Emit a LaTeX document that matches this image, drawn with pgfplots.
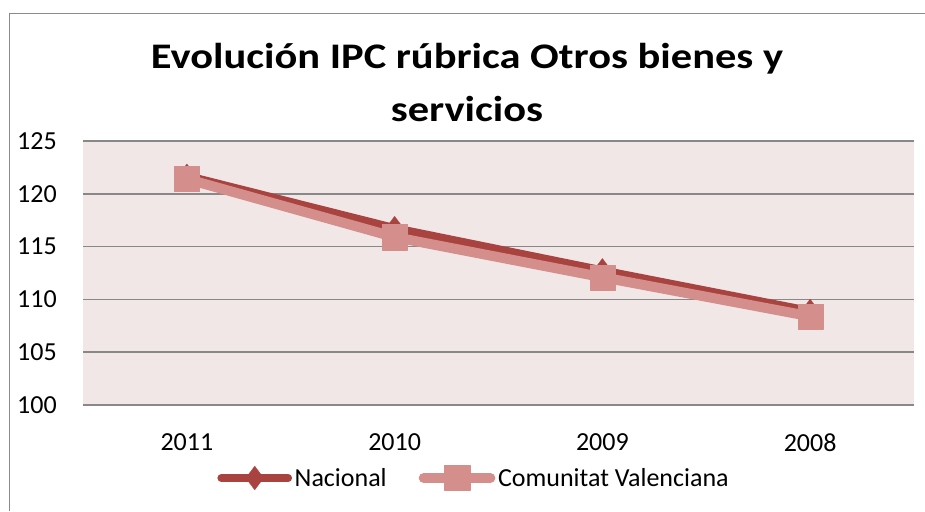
\documentclass[border=0pt]{standalone}
\usepackage{pgfplots}
\pgfplotsset{compat=1.18}
\usepackage{fontspec}
\setmainfont{Carlito}
\newfontfamily\titlefont{Carlito}[FakeStretch=1.18]
\definecolor{nac}{HTML}{A9433F}
\definecolor{cv}{HTML}{D48E8C}
\definecolor{bg}{HTML}{F2E7E7}
\definecolor{gridc}{HTML}{888888}
\definecolor{framec}{HTML}{8A8A8A}
\begin{document}
\begin{tikzpicture}[x=1pt,y=1pt]
\path[use as bounding box] (0,0) rectangle (693.75,383.25);
\draw[framec, line width=1.3pt] (7.1,0) -- (7.1,373.1) -- (693.75,373.1);
\node[font=\titlefont\fontsize{27}{32}\selectfont\bfseries, anchor=base, inner sep=0pt] at (350.25,331.5) {Evolución IPC rúbrica Otros bienes y};
\node[font=\titlefont\fontsize{27}{32}\selectfont\bfseries, anchor=base, inner sep=0pt] at (350.25,291.75) {servicios};
\begin{axis}[
  at={(62.25pt,79.5pt)}, anchor=south west,
  width=623.25pt, height=198pt, scale only axis,
  xmin=-0.5, xmax=3.5, ymin=100, ymax=125,
  ytick={100,105,110,115,120,125},
  xtick={0,1,2,3}, xticklabels={2011,2010,2009,2008},
  axis background/.style={fill=bg},
  axis line style={draw=none},
  major tick length=0pt,
  ymajorgrids, grid style={gridc, line width=1.2pt},
  tick label style={font=\fontsize{19.5}{23}\selectfont},
  /pgf/number format/assume math mode=true,
  yticklabel style={anchor=east, inner sep=0pt, xshift=-19.5pt},
  xticklabel style={anchor=north, inner sep=0pt, yshift=-21pt},
  clip=false,
  legend columns=2,
  legend style={draw=none, fill=none, at={(0.471,-0.2765)}, anchor=center,
    font=\fontsize{19.5}{23}\selectfont,
    /tikz/every even column/.append style={column sep=22pt},
    cells={anchor=west}},
  legend image code/.code={\draw[mark repeat=2,mark phase=2,#1] plot coordinates {(0pt,0pt) (25pt,0pt) (50pt,0pt)};},
]
\addplot[color=nac, line width=6pt, line cap=round, line join=round, mark=diamond*, mark size=9pt,
  mark options={solid, fill=nac, draw=nac, line width=0.1pt}]
  coordinates {(0,121.7) (1,116.75) (2,112.75) (3,108.9)};
\addlegendentry{Nacional}
\addplot[color=cv, line width=7.5pt, line cap=round, line join=round, mark=square*, mark size=9.4pt,
  mark options={solid, fill=cv, draw=cv, line width=0.1pt}]
  coordinates {(0,121.4) (1,115.9) (2,112.1) (3,108.4)};
\addlegendentry{Comunitat Valenciana}
\end{axis}
\end{tikzpicture}
\end{document}
